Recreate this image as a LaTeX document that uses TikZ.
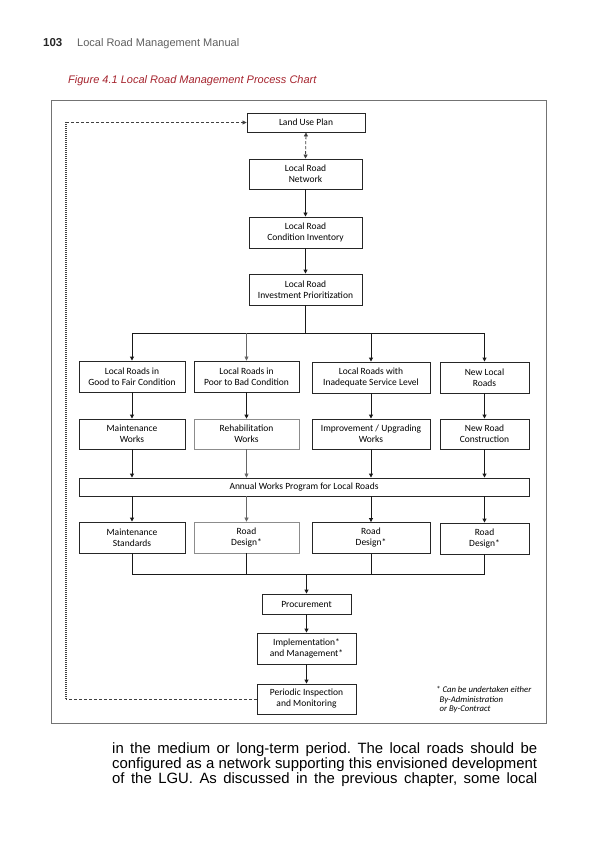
\documentclass[tikz,border=0pt]{standalone}
\usepackage{fontspec}
\setmainfont{Liberation Sans}
\newfontfamily\chartfont{Carlito}
\usetikzlibrary{arrows.meta}
\frenchspacing
\definecolor{capred}{RGB}{165,35,45}
\definecolor{hdrgray}{RGB}{95,95,95}
\tikzset{
  box/.style={draw=black!85, line width=0.9pt, fill=white, align=center, inner sep=1pt,
    font=\chartfont\fontsize{9.5}{11}\selectfont, text=black},
  boxl/.style={box, draw=black!45, line width=0.7pt},
  arr/.style={line width=0.9pt, draw=black!90, -{Triangle[length=4pt,width=4pt]}},
  arrl/.style={arr, line width=0.5pt, draw=black!60},
  lnk/.style={line width=0.9pt, draw=black!90},
  back/.style={line width=0.8pt, draw=black!75, dash pattern=on 3pt off 2pt},
  backv/.style={line width=1.3pt, draw=black!75, dash pattern=on 1pt off 1pt},
  pgtxt/.style={anchor=base west, inner sep=0pt, font=\fontsize{14.9}{15}\selectfont, text=black},
}

\begin{document}
\begin{tikzpicture}[x=1pt,y=-1pt]
\useasboundingbox (0,0) rectangle (600,850);

% page header
\node[anchor=base west, inner sep=0pt, font=\fontsize{11.5}{13}\selectfont\bfseries, text=black!85] (pgno) at (43,47) {103};
\node[anchor=base west, inner sep=0pt, font=\fontsize{11}{13}\selectfont, text=hdrgray] (pgtitle) at (77,47) {Local Road Management Manual};
\node[anchor=base west, inner sep=0pt, font=\fontsize{11}{13}\selectfont\itshape, text=capred] (caption) at (68,84) {Figure 4.1 Local Road Management Process Chart};

% chart frame
\draw[black!55, line width=0.6pt] (51,100) rectangle (546,723);

% top column
\node[box, minimum width=118pt, minimum height=19pt] (land) at (306,122.5) {Land Use Plan};
\node[box, minimum width=113pt, minimum height=30pt] (net) at (305.5,174) {Local Road\\Network};
\node[box, minimum width=113pt, minimum height=31pt] (inv) at (305.5,232.5) {Local Road\\Condition Inventory};
\node[box, minimum width=113pt, minimum height=31pt] (prio) at (305.5,289.5) {Local Road\\Investment Prioritization};

% road classes
\node[box, minimum width=106pt, minimum height=31pt] (gfc) at (132,376.5) {Local Roads in\\Good to Fair Condition};
\node[box, minimum width=105pt, minimum height=31pt] (pbc) at (246.5,376.5) {Local Roads in\\Poor to Bad Condition};
\node[box, minimum width=118pt, minimum height=31pt] (isl) at (371,377.5) {Local Roads with\\Inadequate Service Level};
\node[box, minimum width=89pt, minimum height=31pt] (nlr) at (484.5,377.5) {New Local\\Roads};

% works
\node[box, minimum width=106pt, minimum height=30pt] (mw) at (132,434) {Maintenance\\Works};
\node[boxl, minimum width=105pt, minimum height=30pt] (rw) at (246.5,434) {Rehabilitation\\Works};
\node[box, minimum width=118pt, minimum height=30pt] (iuw) at (371,434) {Improvement / Upgrading\\Works};
\node[box, minimum width=89pt, minimum height=30pt] (nrc) at (484.5,434) {New Road\\Construction};

\node[box, minimum width=450pt, minimum height=18pt] (awp) at (304,487) {Annual Works Program for Local Roads};

% standards and designs
\node[box, minimum width=106pt, minimum height=31pt] (ms) at (132,537.5) {Maintenance\\Standards};
\node[boxl, minimum width=105pt, minimum height=31pt] (rd2) at (246.5,537.5) {Road\\Design*};
\node[box, minimum width=118pt, minimum height=31pt] (rd3) at (371,538) {Road\\Design*};
\node[box, minimum width=89pt, minimum height=31pt] (rd4) at (484.5,538.5) {Road\\Design*};

% bottom column
\node[box, minimum width=89pt, minimum height=20pt] (proc) at (306.5,604) {Procurement};
\node[box, minimum width=99pt, minimum height=31pt] (impl) at (306.5,648.5) {Implementation*\\and Management*};
\node[box, minimum width=99pt, minimum height=30pt] (peri) at (306.5,699) {Periodic Inspection\\and Monitoring};

\node[anchor=north west, inner sep=0pt, align=left, font=\chartfont\fontsize{8.7}{9.7}\selectfont\itshape, text=black] (note) at (436,686)
  {* Can be undertaken either\\\hspace*{3.5pt}By-Administration\\\hspace*{3.5pt}or By-Contract};

% connectors
\draw[back, {Triangle[length=4pt,width=4pt]}-{Triangle[length=4pt,width=4pt]}] (land.south) -- (net.north);
\draw[arr] (net) -- (inv);
\draw[arr] (inv) -- (prio);

\coordinate (split) at (305.5,333);
\draw[lnk] (prio.south) -- (split);
\draw[lnk] (split -| gfc) -- (split -| nlr);
\draw[arr] (split -| gfc) -- (gfc.north);
\draw[arrl] (split -| pbc) -- (pbc.north);
\draw[arr] (split -| isl) -- (isl.north);
\draw[arr] (split -| nlr) -- (nlr.north);

\draw[arr] (gfc) -- (mw);
\draw[arr] (pbc) -- (rw);
\draw[arr] (isl) -- (iuw);
\draw[arr] (nlr) -- (nrc);

\draw[arr] (mw.south) -- (mw.south |- awp.north);
\draw[arrl] (rw.south) -- (rw.south |- awp.north);
\draw[arr] (iuw.south) -- (iuw.south |- awp.north);
\draw[arr] (nrc.south) -- (nrc.south |- awp.north);

\draw[arr] (awp.south -| ms) -- (ms.north);
\draw[arrl] (awp.south -| rd2) -- (rd2.north);
\draw[arr] (awp.south -| rd3) -- (rd3.north);
\draw[arr] (awp.south -| rd4) -- (rd4.north);

\coordinate (join) at (306.5,574);
\draw[lnk] (ms.south) |- (rd4.south |- join) -- (rd4.south);
\draw[lnk] (rd2.south) -- (rd2.south |- join);
\draw[lnk] (rd3.south) -- (rd3.south |- join);
\draw[arr] (join) -- (proc.north);
\draw[arr] (proc) -- (impl);
\draw[arr] (impl) -- (peri);

% feedback loop
\coordinate (loopB) at (66,699);
\coordinate (loopT) at (66,122.5);
\draw[back] (peri.west) -- (loopB);
\draw[backv] (loopB) -- (loopT);
\draw[back, -{Triangle[length=4pt,width=4pt]}] (loopT) -- (land.west);

% running text
\node[pgtxt] (line1) at (112,753) {\makebox[425pt][s]{in the medium or long-term period. The local roads should be}};
\node[pgtxt] (line2) at (112,768) {\makebox[425pt][s]{configured as a network supporting this envisioned development}};
\node[pgtxt] (line3) at (112,783) {\makebox[425pt][s]{of the LGU. As discussed in the previous chapter, some local}};
\end{tikzpicture}
\end{document}
